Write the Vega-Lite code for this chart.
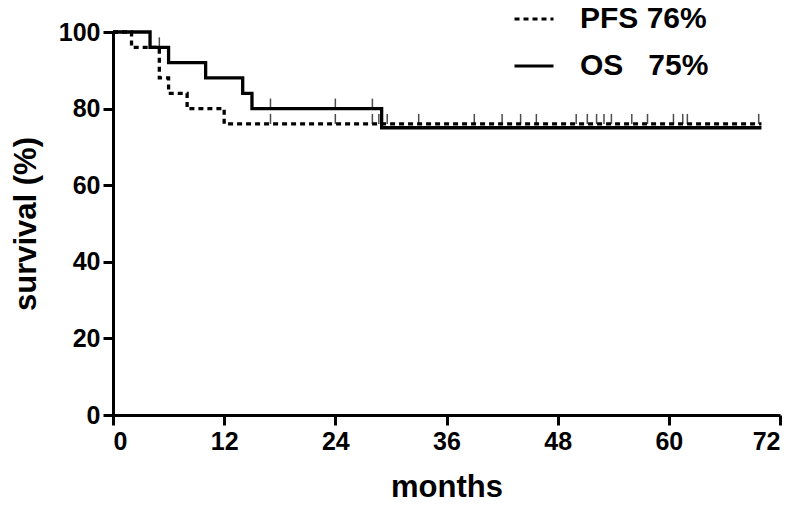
{
  "$schema": "https://vega.github.io/schema/vega-lite/v6.json",
  "width": 667,
  "height": 383,
  "autosize": {"type": "none"},
  "padding": {"left": 113, "top": 32, "right": 18, "bottom": 93},
  "background": "white",
  "config": {
    "view": {"stroke": null},
    "axis": {
      "grid": false,
      "domainColor": "black",
      "domainWidth": 3,
      "tickColor": "black",
      "tickWidth": 3,
      "tickSize": 10,
      "labelFont": "Liberation Sans",
      "labelFontWeight": "bold",
      "labelFontSize": 25,
      "labelColor": "black",
      "titleFont": "Liberation Sans",
      "titleFontWeight": "bold",
      "titleFontSize": 31,
      "titleColor": "black"
    }
  },
  "datasets": {
    "curves": [
      {"series": "OS\u00a0\u00a0\u00a075%", "month": 0, "surv": 100},
      {"series": "OS\u00a0\u00a0\u00a075%", "month": 4, "surv": 96},
      {"series": "OS\u00a0\u00a0\u00a075%", "month": 6, "surv": 92},
      {"series": "OS\u00a0\u00a0\u00a075%", "month": 10, "surv": 88},
      {"series": "OS\u00a0\u00a0\u00a075%", "month": 14, "surv": 84},
      {"series": "OS\u00a0\u00a0\u00a075%", "month": 15, "surv": 80},
      {"series": "OS\u00a0\u00a0\u00a075%", "month": 29, "surv": 75},
      {"series": "OS\u00a0\u00a0\u00a075%", "month": 70, "surv": 75},
      {"series": "PFS 76%", "month": 0, "surv": 100},
      {"series": "PFS 76%", "month": 2, "surv": 96},
      {"series": "PFS 76%", "month": 5, "surv": 88},
      {"series": "PFS 76%", "month": 6, "surv": 84},
      {"series": "PFS 76%", "month": 8, "surv": 80},
      {"series": "PFS 76%", "month": 12, "surv": 76},
      {"series": "PFS 76%", "month": 70, "surv": 76}
    ],
    "censored": [
      {"series": "OS", "month": 5, "surv": 96},
      {"series": "OS", "month": 17, "surv": 80},
      {"series": "OS", "month": 24, "surv": 80},
      {"series": "OS", "month": 28, "surv": 80},
      {"series": "PFS", "month": 17, "surv": 76},
      {"series": "PFS", "month": 24, "surv": 76},
      {"series": "PFS", "month": 28, "surv": 76},
      {"series": "PFS", "month": 28.7, "surv": 76},
      {"series": "PFS", "month": 29.6, "surv": 76},
      {"series": "PFS", "month": 33, "surv": 76},
      {"series": "PFS", "month": 39, "surv": 76},
      {"series": "PFS", "month": 42, "surv": 76},
      {"series": "PFS", "month": 44, "surv": 76},
      {"series": "PFS", "month": 45.7, "surv": 76},
      {"series": "PFS", "month": 50, "surv": 76},
      {"series": "PFS", "month": 51.2, "surv": 76},
      {"series": "PFS", "month": 52.2, "surv": 76},
      {"series": "PFS", "month": 53, "surv": 76},
      {"series": "PFS", "month": 53.8, "surv": 76},
      {"series": "PFS", "month": 56, "surv": 76},
      {"series": "PFS", "month": 57.7, "surv": 76},
      {"series": "PFS", "month": 60.5, "surv": 76},
      {"series": "PFS", "month": 61.5, "surv": 76},
      {"series": "PFS", "month": 62, "surv": 76},
      {"series": "PFS", "month": 69.7, "surv": 76}
    ]
  },
  "layer": [
    {
      "data": {"name": "curves"},
      "mark": {"type": "line", "interpolate": "step-after", "color": "black", "strokeWidth": 3.3},
      "encoding": {
        "x": {
          "field": "month", "type": "quantitative",
          "scale": {"domain": [0, 72], "nice": false},
          "axis": {"values": [0, 12, 24, 36, 48, 60, 72], "title": "months", "labelPadding": 4, "titlePadding": 18}
        },
        "y": {
          "field": "surv", "type": "quantitative",
          "scale": {"domain": [0, 100], "nice": false},
          "axis": {"values": [0, 20, 40, 60, 80, 100], "title": "survival (%)", "labelPadding": 3, "titlePadding": 16}
        },
        "strokeDash": {
          "field": "series", "type": "nominal",
          "scale": {"domain": ["PFS 76%", "OS\u00a0\u00a0\u00a075%"], "range": [[5, 4], [1, 0]]},
          "legend": {
            "title": null,
            "orient": "none",
            "legendX": 400,
            "legendY": -34,
            "symbolType": "stroke",
            "symbolSize": 1521,
            "symbolStrokeWidth": 3,
            "symbolStrokeColor": "black",
            "labelFont": "Liberation Sans",
            "labelFontWeight": "bold",
            "labelFontSize": 30,
            "labelColor": "black",
            "labelOffset": 25,
            "rowPadding": 11,
            "labelLimit": 300
          }
        }
      }
    },
    {
      "data": {"name": "censored"},
      "mark": {"type": "tick", "orient": "vertical", "color": "black", "thickness": 1.5, "size": 10, "yOffset": -5},
      "encoding": {
        "x": {"field": "month", "type": "quantitative"},
        "y": {"field": "surv", "type": "quantitative"}
      }
    }
  ]
}
